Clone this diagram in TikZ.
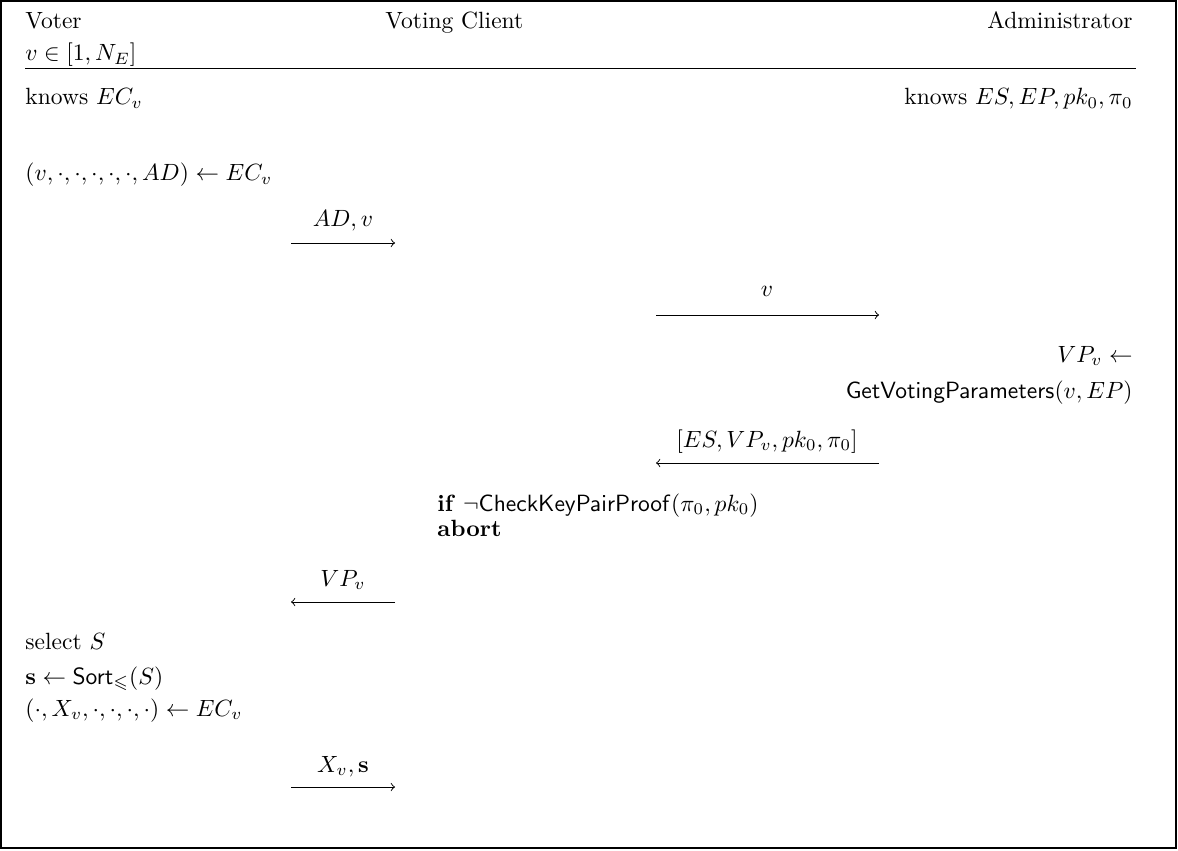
\documentclass[tikz,border=0pt]{standalone}
\usepackage{amsmath,amssymb}
\usetikzlibrary{positioning}

\tikzstyle{lefttext}=[anchor=base west, inner sep=0pt]
\tikzstyle{righttext}=[anchor=base east, inner sep=0pt]
\tikzstyle{msg-label}=[anchor=base, inner sep=0pt]
\tikzstyle{msg}=[->, line width=0.4pt]
\tikzstyle{frame}=[line width=0.5pt]

\begin{document}
\begin{tikzpicture}[x=0.4255pt, y=-0.4255pt]
  \useasboundingbox (0,0) rectangle (1178,851);
  \draw[frame] (1,1) rectangle (1176,848);

  % parties and header rule
  \node (party-voter) at (25,29) [lefttext] {Voter};
  \node (party-client) at (385,29) [lefttext] {Voting Client};
  \node (party-admin) at (1133,29) [righttext] {Administrator};
  \node (party-range) at (25,61) [lefttext] {$v \in [1, N_E]$};
  \coordinate (rule-west) at (25,68);
  \coordinate (rule-east) at (1136,68);
  \draw (rule-west) -- (rule-east);

  % what each side knows
  \node (voter-knows) at (25,105) [lefttext] {knows $EC_v$};
  \node (admin-knows) at (1133,105) [righttext] {knows $ES, EP, pk_0, \pi_0$};
  \node (voter-ad) at (25,181) [lefttext] {$(v, \cdot, \cdot, \cdot, \cdot, \cdot, AD) \leftarrow EC_v$};

  % voter -> client: AD, v
  \coordinate (m1-from) at (291,243);
  \coordinate (m1-to) at (395,243);
  \draw[msg] (m1-from) -- (m1-to);
  \node (m1-label) at (343,227) [msg-label] {$AD, v$};

  % client -> admin: v
  \coordinate (m2-from) at (656,315);
  \coordinate (m2-to) at (879,315);
  \draw[msg] (m2-from) -- (m2-to);
  \node (m2-label) at (767,297) [msg-label] {$v$};

  \node (admin-vp) at (1133,362) [righttext] {$VP_v \leftarrow$};
  \node (admin-get) at (1133,398) [righttext] {$\mathsf{GetVotingParameters}(v, EP)$};

  % admin -> client
  \coordinate (m3-from) at (879,463);
  \coordinate (m3-to) at (656,463);
  \draw[msg] (m3-from) -- (m3-to);
  \node (m3-label) at (767,447) [msg-label] {$[ES, VP_v, pk_0, \pi_0]$};

  \node (client-check) at (437,511) [lefttext] {\textbf{if}\ $\neg\mathsf{CheckKeyPairProof}(\pi_0, pk_0)$};
  \node (client-abort) at (437,536) [lefttext] {\textbf{abort}};

  % client -> voter
  \coordinate (m4-from) at (395,602);
  \coordinate (m4-to) at (291,602);
  \draw[msg] (m4-from) -- (m4-to);
  \node (m4-label) at (343,586) [msg-label] {$VP_v$};

  \node (voter-select) at (25,649) [lefttext] {select $S$};
  \node (voter-sort) at (25,684) [lefttext] {$\mathbf{s} \leftarrow \mathsf{Sort}_{\leqslant}(S)$};
  \node (voter-xv) at (25,716) [lefttext] {$(\cdot, X_v, \cdot, \cdot, \cdot, \cdot) \leftarrow EC_v$};

  % voter -> client: X_v, s
  \coordinate (m5-from) at (291,787);
  \coordinate (m5-to) at (395,787);
  \draw[msg] (m5-from) -- (m5-to);
  \node (m5-label) at (343,772) [msg-label] {$X_v, \mathbf{s}$};
\end{tikzpicture}
\end{document}
